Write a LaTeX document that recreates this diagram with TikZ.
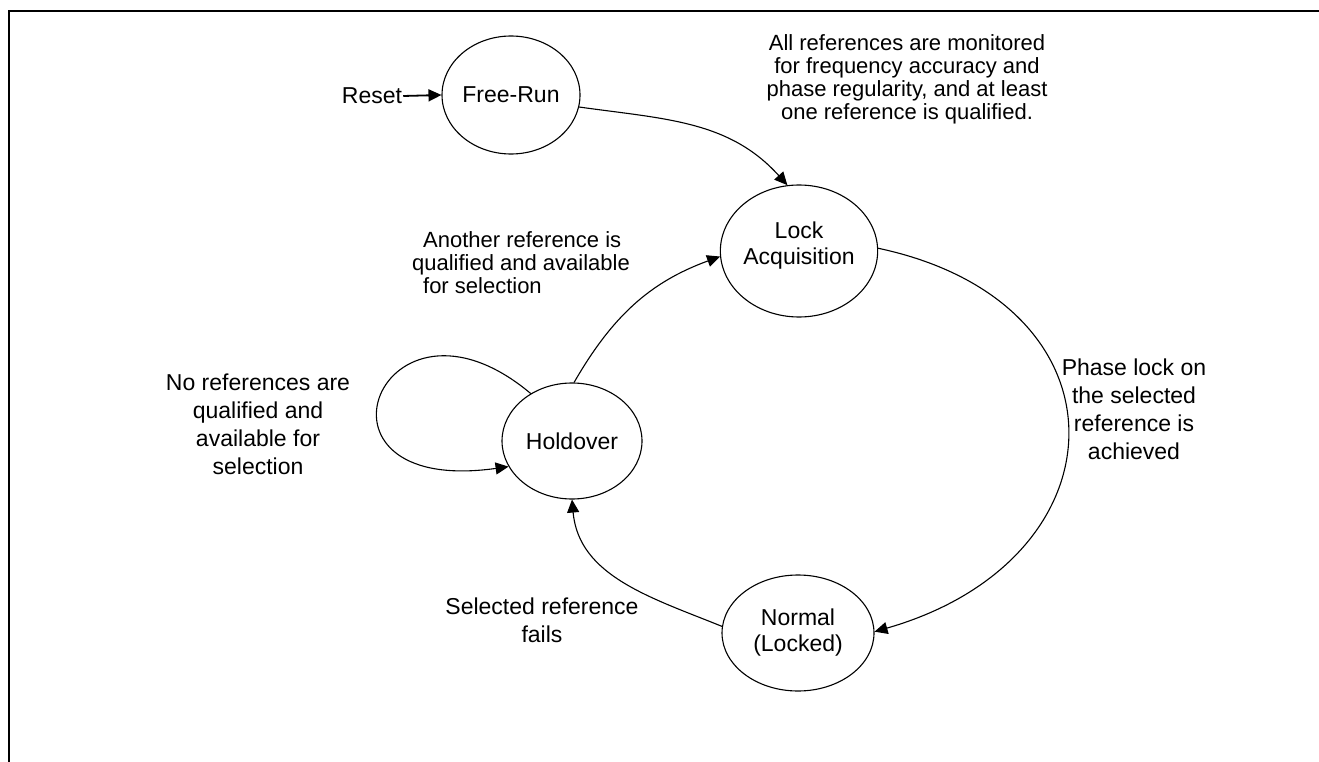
\documentclass[tikz,border=0pt]{standalone}
\usepackage{fontspec}
\setmainfont{Liberation Sans}
\usetikzlibrary{shapes.geometric,arrows.meta}
\begin{document}
\begin{tikzpicture}[x=1pt,y=1pt,
  state/.style={draw, ellipse, line width=1.1pt, inner sep=0pt, align=center, font=\fontsize{23}{26}\selectfont},
  lbl/.style={inner sep=0pt, align=center, font=\fontsize{23}{28}\selectfont},
  lbls/.style={inner sep=0pt, align=center, font=\fontsize{22}{23}\selectfont},
  conn/.style={line width=1.1pt, -{Triangle[length=13pt,width=12pt]}}]
\useasboundingbox (0,0) rectangle (1319,-762);
\draw[line width=2.5pt] (9,-762) -- (9,-11) -- (1319,-11);

\node[state, minimum width=138pt, minimum height=118pt] (free) at (511,-95) {Free-Run};
\node[state, minimum width=154pt, minimum height=132pt, text depth=15pt] (lock) at (799,-251) {Lock\\Acquisition};
\node[state, minimum width=140pt, minimum height=116pt] (hold) at (572,-441) {Holdover};
\node[state, minimum width=152pt, minimum height=116pt] (norm) at (798,-633) {Normal\\(Locked)};

\node[inner sep=1pt, font=\fontsize{23}{28}\selectfont] (reset) at (372,-96) {Reset};

\node[lbls] (lblall) at (907,-79) {All references are monitored\\for frequency accuracy and\\phase regularity, and at least\\one reference is qualified.};
\node[lbls, align=left] (lblanother) at (521,-263) {\hspace*{11pt}Another reference is\\qualified and available\\\hspace*{11pt}for selection};
\node[lbl] (lblphase) at (1134,-409) {Phase lock on\\the selected\\reference is\\achieved};
\node[lbl] (lblno) at (258,-424) {No references are\\qualified and\\available for\\selection};
\node[lbl] (lblsel) at (542,-620) {Selected reference\\fails};

\draw[conn, line width=1.8pt] (reset.east) -- (free.west);
\draw[conn] (free.-10) to[out=-8,in=132] (lock.100);
\draw[conn] (hold.88) to[out=60,in=200] (lock.184);
\draw[conn] (lock.2) to[out=-12,in=16,looseness=1.75] (norm.1);
\draw[conn] (norm.175) to[out=158,in=-85] (hold.-90);
\draw[conn] (hold.131) .. controls +(140:195) and +(188:220) .. (hold.202);
\end{tikzpicture}
\end{document}
